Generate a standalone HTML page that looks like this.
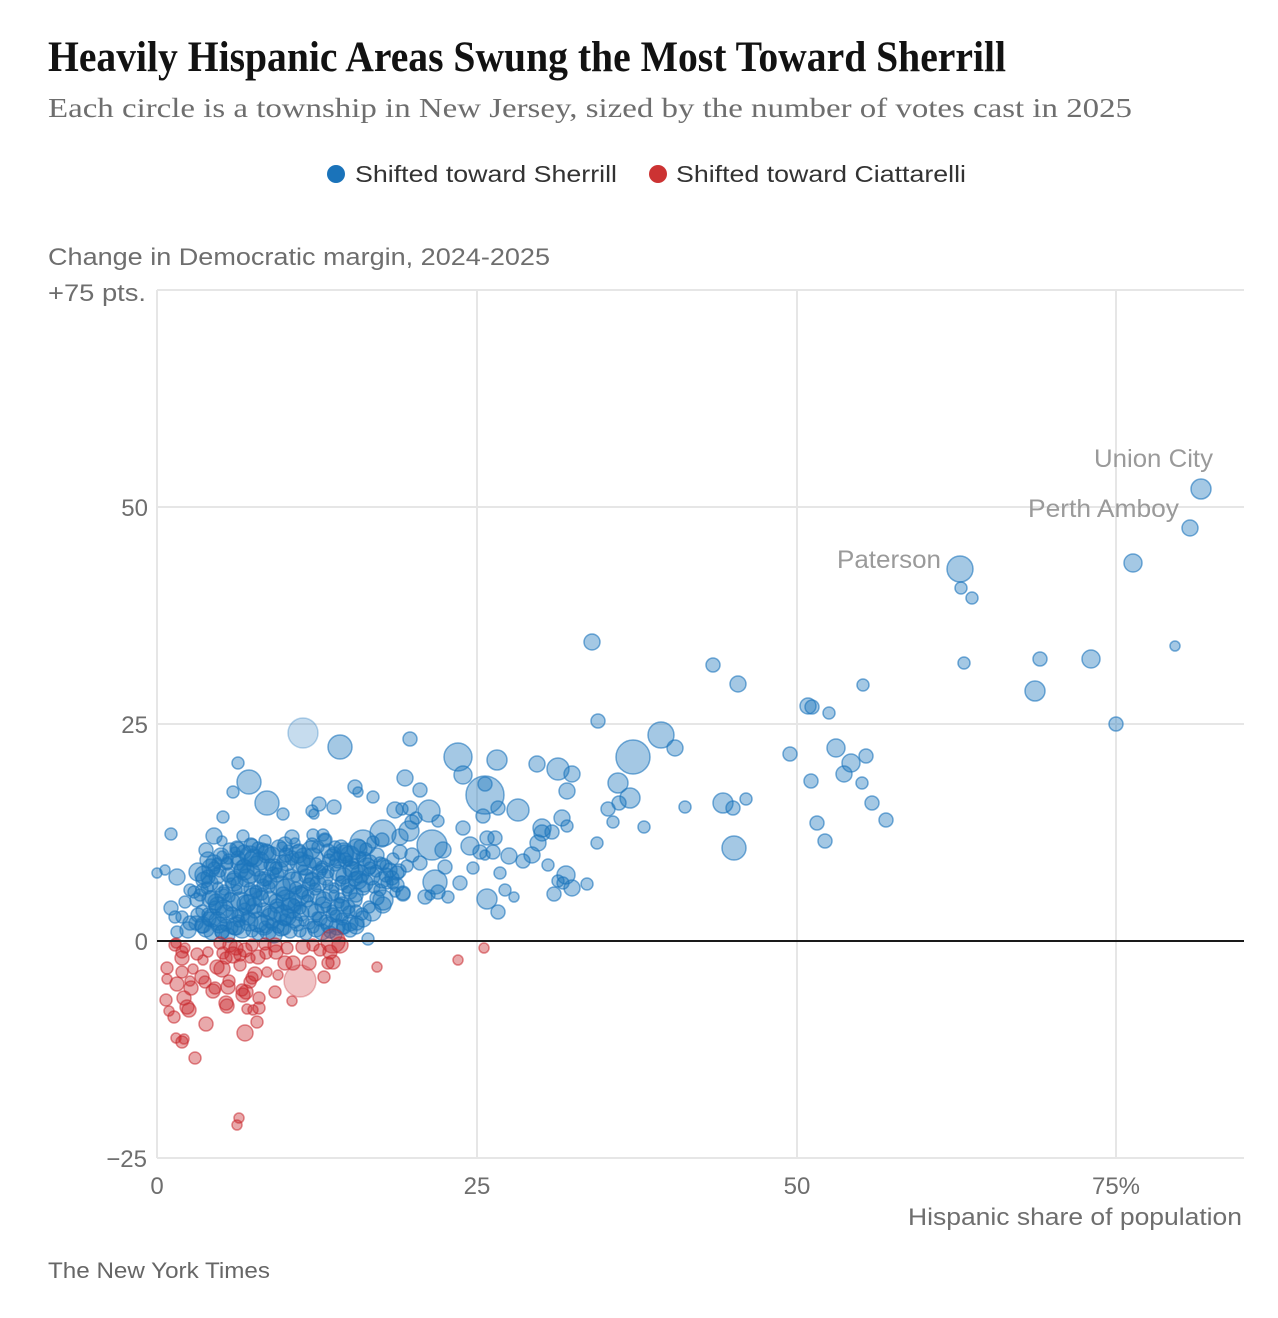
<!DOCTYPE html>
<html><head><meta charset="utf-8">
<style>
html,body{margin:0;padding:0;background:#fff;}
svg{display:block;}
.b{fill:rgb(28,117,188);fill-opacity:0.4;stroke:rgb(28,117,188);stroke-opacity:0.6;stroke-width:1.5;}
.bl{fill:rgb(28,117,188);fill-opacity:0.25;stroke:rgb(28,117,188);stroke-opacity:0.3;stroke-width:1.5;}
.r{fill:rgb(200,40,45);fill-opacity:0.4;stroke:rgb(200,40,45);stroke-opacity:0.55;stroke-width:1.5;}
.rl{fill:rgb(200,40,45);fill-opacity:0.28;stroke:rgb(200,40,45);stroke-opacity:0.3;stroke-width:1.5;}
.s{font-family:"Liberation Sans",Arial,sans-serif;}
</style></head>
<body>
<svg width="1278" height="1318" viewBox="0 0 1278 1318" xmlns="http://www.w3.org/2000/svg">
<rect width="1278" height="1318" fill="#fff"/>
<text x="48" y="71" font-family="Liberation Serif, serif" font-weight="bold" font-size="43" fill="#121212" textLength="958" lengthAdjust="spacingAndGlyphs">Heavily Hispanic Areas Swung the Most Toward Sherrill</text>
<text x="48" y="117" font-family="Liberation Serif, serif" font-size="27" fill="#6e6e6e" textLength="1084" lengthAdjust="spacingAndGlyphs">Each circle is a township in New Jersey, sized by the number of votes cast in 2025</text>

<circle cx="336" cy="174" r="9" fill="#1a73ba"/>
<text class="s" x="355" y="182" font-size="23" fill="#333" textLength="262" lengthAdjust="spacingAndGlyphs">Shifted toward Sherrill</text>
<circle cx="658" cy="174" r="9" fill="#cc3333"/>
<text class="s" x="676" y="182" font-size="23" fill="#333" textLength="290" lengthAdjust="spacingAndGlyphs">Shifted toward Ciattarelli</text>

<text class="s" x="48" y="265" font-size="24" fill="#6e6e6e" textLength="502" lengthAdjust="spacingAndGlyphs">Change in Democratic margin, 2024-2025</text>
<text class="s" x="48" y="301" font-size="24" fill="#6e6e6e" textLength="98" lengthAdjust="spacingAndGlyphs">+75 pts.</text>

<!-- grid -->
<g stroke="#e6e6e6" stroke-width="2">
<line x1="157" y1="290" x2="1244" y2="290"/>
<line x1="157" y1="507" x2="1244" y2="507"/>
<line x1="157" y1="724" x2="1244" y2="724"/>
<line x1="157" y1="1158" x2="1244" y2="1158"/>
<line x1="157" y1="290" x2="157" y2="1158"/>
<line x1="477" y1="290" x2="477" y2="1158"/>
<line x1="797" y1="290" x2="797" y2="1158"/>
<line x1="1116" y1="290" x2="1116" y2="1158"/>
</g>

<g class="s" font-size="24" fill="#6e6e6e">
<text x="148" y="516" text-anchor="end">50</text>
<text x="148" y="733" text-anchor="end">25</text>
<text x="148" y="950" text-anchor="end">0</text>
<text x="147" y="1167" text-anchor="end">−25</text>
<text x="157" y="1194" text-anchor="middle">0</text>
<text x="477" y="1194" text-anchor="middle">25</text>
<text x="797" y="1194" text-anchor="middle">50</text>
<text x="1116" y="1194" text-anchor="middle">75%</text>
<text x="1242" y="1225" text-anchor="end" textLength="334" lengthAdjust="spacingAndGlyphs">Hispanic share of population</text>
</g>
<text class="s" x="48" y="1278" font-size="22" fill="#666" textLength="222" lengthAdjust="spacingAndGlyphs">The New York Times</text>

<!-- blue dense cluster -->
<g id="ga">
<circle class="b" cx="244" cy="852" r="7"/><circle class="b" cx="258" cy="848" r="6"/><circle class="b" cx="272" cy="855" r="8"/><circle class="b" cx="288" cy="850" r="5"/><circle class="b" cx="304" cy="857" r="9"/><circle class="b" cx="318" cy="847" r="6"/><circle class="b" cx="334" cy="854" r="7"/><circle class="b" cx="350" cy="856" r="10"/><circle class="b" cx="366" cy="849" r="6"/>
<circle class="b" cx="214" cy="863" r="8"/><circle class="b" cx="228" cy="859" r="5"/><circle class="b" cx="244" cy="866" r="7"/><circle class="b" cx="260" cy="861" r="9"/><circle class="b" cx="276" cy="868" r="6"/><circle class="b" cx="292" cy="858" r="7"/><circle class="b" cx="306" cy="865" r="10"/><circle class="b" cx="322" cy="867" r="6"/><circle class="b" cx="338" cy="860" r="8"/><circle class="b" cx="354" cy="864" r="5"/><circle class="b" cx="370" cy="862" r="7"/><circle class="b" cx="386" cy="866" r="6"/>
<circle class="b" cx="204" cy="875" r="9"/><circle class="b" cx="220" cy="871" r="6"/><circle class="b" cx="234" cy="878" r="7"/><circle class="b" cx="250" cy="873" r="10"/><circle class="b" cx="266" cy="880" r="6"/><circle class="b" cx="280" cy="870" r="8"/><circle class="b" cx="296" cy="877" r="5"/><circle class="b" cx="312" cy="879" r="7"/><circle class="b" cx="328" cy="872" r="6"/><circle class="b" cx="344" cy="876" r="8"/><circle class="b" cx="360" cy="874" r="9"/><circle class="b" cx="376" cy="871" r="6"/><circle class="b" cx="392" cy="878" r="7"/>
<circle class="b" cx="210" cy="883" r="8"/><circle class="b" cx="224" cy="890" r="5"/><circle class="b" cx="240" cy="885" r="9"/><circle class="b" cx="256" cy="892" r="6"/><circle class="b" cx="270" cy="882" r="7"/><circle class="b" cx="286" cy="889" r="10"/><circle class="b" cx="302" cy="891" r="6"/><circle class="b" cx="318" cy="884" r="8"/><circle class="b" cx="334" cy="888" r="5"/><circle class="b" cx="348" cy="886" r="7"/><circle class="b" cx="364" cy="883" r="9"/><circle class="b" cx="380" cy="890" r="6"/>
<circle class="b" cx="200" cy="895" r="6"/><circle class="b" cx="216" cy="902" r="8"/><circle class="b" cx="230" cy="897" r="5"/><circle class="b" cx="246" cy="904" r="9"/><circle class="b" cx="262" cy="894" r="6"/><circle class="b" cx="276" cy="901" r="7"/><circle class="b" cx="292" cy="903" r="10"/><circle class="b" cx="308" cy="896" r="6"/><circle class="b" cx="324" cy="900" r="8"/><circle class="b" cx="340" cy="898" r="5"/><circle class="b" cx="356" cy="895" r="7"/>
<circle class="b" cx="208" cy="914" r="6"/><circle class="b" cx="224" cy="909" r="9"/><circle class="b" cx="238" cy="916" r="6"/><circle class="b" cx="254" cy="906" r="8"/><circle class="b" cx="270" cy="913" r="7"/><circle class="b" cx="284" cy="915" r="10"/><circle class="b" cx="300" cy="908" r="6"/><circle class="b" cx="316" cy="912" r="8"/><circle class="b" cx="332" cy="910" r="5"/><circle class="b" cx="348" cy="907" r="7"/><circle class="b" cx="362" cy="914" r="6"/>
<circle class="b" cx="202" cy="926" r="7"/><circle class="b" cx="218" cy="921" r="9"/><circle class="b" cx="232" cy="928" r="6"/><circle class="b" cx="248" cy="918" r="7"/><circle class="b" cx="264" cy="925" r="10"/><circle class="b" cx="278" cy="927" r="6"/><circle class="b" cx="294" cy="920" r="8"/><circle class="b" cx="310" cy="924" r="5"/><circle class="b" cx="326" cy="922" r="7"/><circle class="b" cx="342" cy="919" r="6"/><circle class="b" cx="356" cy="926" r="8"/>
<circle class="b" cx="212" cy="932" r="8"/><circle class="b" cx="228" cy="935" r="7"/><circle class="b" cx="242" cy="929" r="9"/><circle class="b" cx="258" cy="934" r="6"/><circle class="b" cx="274" cy="935" r="8"/><circle class="b" cx="290" cy="931" r="7"/><circle class="b" cx="306" cy="934" r="6"/><circle class="b" cx="322" cy="932" r="8"/><circle class="b" cx="336" cy="935" r="6"/><circle class="b" cx="350" cy="930" r="7"/>
</g>
<use href="#ga" transform="translate(7,-7)"/>
<use href="#ga" transform="translate(-6,-3)"/>

<!-- blue individual -->
<g>
<circle class="b" cx="1201" cy="489" r="10"/><circle class="b" cx="1190" cy="528" r="8"/><circle class="b" cx="1133" cy="563" r="9"/><circle class="b" cx="1175" cy="646" r="5"/><circle class="b" cx="1116" cy="724" r="7"/><circle class="b" cx="1091" cy="659" r="9"/><circle class="b" cx="1035" cy="691" r="10"/><circle class="b" cx="1040" cy="659" r="7"/>
<circle class="b" cx="960" cy="569" r="13"/><circle class="b" cx="961" cy="588" r="6"/><circle class="b" cx="972" cy="598" r="6"/><circle class="b" cx="964" cy="663" r="6"/>
<circle class="b" cx="863" cy="685" r="6"/><circle class="b" cx="866" cy="756" r="7"/><circle class="b" cx="862" cy="783" r="6"/><circle class="b" cx="872" cy="803" r="7"/><circle class="b" cx="886" cy="820" r="7"/><circle class="b" cx="851" cy="763" r="9"/><circle class="b" cx="844" cy="774" r="8"/><circle class="b" cx="836" cy="748" r="9"/>
<circle class="b" cx="808" cy="706" r="8"/><circle class="b" cx="812" cy="707" r="7"/><circle class="b" cx="829" cy="713" r="6"/><circle class="b" cx="790" cy="754" r="7"/><circle class="b" cx="811" cy="781" r="7"/><circle class="b" cx="817" cy="823" r="7"/><circle class="b" cx="825" cy="841" r="7"/>
<circle class="b" cx="713" cy="665" r="7"/><circle class="b" cx="738" cy="684" r="8"/><circle class="b" cx="746" cy="799" r="6"/><circle class="b" cx="723" cy="803" r="10"/><circle class="b" cx="733" cy="808" r="7"/><circle class="b" cx="734" cy="848" r="12"/><circle class="b" cx="685" cy="807" r="6"/>
<circle class="b" cx="661" cy="735" r="13"/><circle class="b" cx="675" cy="748" r="8"/><circle class="b" cx="633" cy="757" r="17"/><circle class="b" cx="618" cy="783" r="10"/><circle class="b" cx="630" cy="798" r="10"/><circle class="b" cx="619" cy="803" r="7"/><circle class="b" cx="608" cy="809" r="7"/><circle class="b" cx="613" cy="822" r="6"/><circle class="b" cx="644" cy="827" r="6"/><circle class="b" cx="597" cy="843" r="6"/>
<circle class="b" cx="592" cy="642" r="8"/><circle class="b" cx="598" cy="721" r="7"/>
<circle class="b" cx="587" cy="884" r="6"/><circle class="b" cx="572" cy="888" r="8"/><circle class="b" cx="566" cy="875" r="9"/><circle class="b" cx="558" cy="881" r="6"/><circle class="b" cx="563" cy="883" r="6"/><circle class="b" cx="554" cy="894" r="7"/><circle class="b" cx="548" cy="865" r="6"/>
<circle class="b" cx="537" cy="764" r="8"/><circle class="b" cx="558" cy="769" r="11"/><circle class="b" cx="572" cy="774" r="8"/><circle class="b" cx="567" cy="791" r="8"/><circle class="b" cx="562" cy="818" r="8"/><circle class="b" cx="567" cy="826" r="6"/>
<circle class="b" cx="542" cy="828" r="9"/><circle class="b" cx="542" cy="833" r="8"/><circle class="b" cx="552" cy="832" r="7"/><circle class="b" cx="538" cy="843" r="8"/><circle class="b" cx="532" cy="855" r="8"/><circle class="b" cx="523" cy="861" r="7"/><circle class="b" cx="509" cy="856" r="8"/><circle class="b" cx="493" cy="852" r="7"/><circle class="b" cx="487" cy="838" r="7"/><circle class="b" cx="495" cy="838" r="7"/>
<circle class="b" cx="500" cy="873" r="6"/><circle class="b" cx="505" cy="890" r="6"/><circle class="b" cx="514" cy="897" r="5"/><circle class="b" cx="487" cy="899" r="10"/><circle class="b" cx="498" cy="912" r="7"/>
<circle class="b" cx="518" cy="810" r="11"/><circle class="b" cx="498" cy="808" r="7"/><circle class="b" cx="483" cy="816" r="7"/><circle class="b" cx="497" cy="760" r="10"/><circle class="b" cx="485" cy="795" r="19"/><circle class="b" cx="485" cy="784" r="7"/><circle class="b" cx="463" cy="775" r="9"/><circle class="b" cx="458" cy="757" r="14"/>
<circle class="b" cx="473" cy="868" r="6"/><circle class="b" cx="460" cy="883" r="7"/><circle class="b" cx="435" cy="882" r="12"/><circle class="b" cx="438" cy="892" r="7"/><circle class="b" cx="448" cy="897" r="6"/><circle class="b" cx="425" cy="897" r="7"/><circle class="b" cx="430" cy="895" r="5"/>
<circle class="b" cx="443" cy="850" r="8"/><circle class="b" cx="470" cy="846" r="9"/><circle class="b" cx="480" cy="852" r="7"/><circle class="b" cx="485" cy="855" r="5"/><circle class="b" cx="463" cy="828" r="7"/><circle class="b" cx="432" cy="845" r="15"/><circle class="b" cx="429" cy="811" r="11"/><circle class="b" cx="438" cy="821" r="6"/><circle class="b" cx="416" cy="818" r="6"/>
<circle class="b" cx="412" cy="822" r="7"/><circle class="b" cx="409" cy="831" r="10"/><circle class="b" cx="400" cy="837" r="8"/><circle class="b" cx="383" cy="833" r="13"/><circle class="b" cx="382" cy="840" r="7"/><circle class="b" cx="363" cy="843" r="13"/>
<circle class="b" cx="395" cy="810" r="8"/><circle class="b" cx="402" cy="809" r="6"/><circle class="b" cx="410" cy="808" r="7"/><circle class="b" cx="405" cy="778" r="8"/><circle class="b" cx="420" cy="790" r="7"/><circle class="b" cx="410" cy="739" r="7"/>
<circle class="b" cx="355" cy="787" r="7"/><circle class="b" cx="358" cy="792" r="5"/><circle class="b" cx="373" cy="797" r="6"/><circle class="b" cx="334" cy="807" r="7"/><circle class="b" cx="319" cy="804" r="7"/><circle class="b" cx="312" cy="811" r="6"/><circle class="b" cx="314" cy="814" r="5"/>
<circle class="b" cx="340" cy="747" r="12"/><circle class="bl" cx="303" cy="733" r="15"/>
<circle class="b" cx="267" cy="803" r="12"/><circle class="b" cx="283" cy="814" r="6"/><circle class="b" cx="249" cy="782" r="12"/><circle class="b" cx="238" cy="763" r="6"/><circle class="b" cx="233" cy="792" r="6"/><circle class="b" cx="223" cy="817" r="6"/>
<circle class="b" cx="171" cy="834" r="6"/><circle class="b" cx="214" cy="836" r="8"/><circle class="b" cx="243" cy="836" r="6"/><circle class="b" cx="222" cy="841" r="5"/><circle class="b" cx="206" cy="850" r="7"/><circle class="b" cx="230" cy="850" r="7"/><circle class="b" cx="237" cy="848" r="7"/><circle class="b" cx="250" cy="856" r="10"/><circle class="b" cx="262" cy="849" r="6"/>
<circle class="b" cx="292" cy="837" r="7"/><circle class="b" cx="285" cy="844" r="7"/><circle class="b" cx="313" cy="835" r="6"/><circle class="b" cx="323" cy="835" r="6"/><circle class="b" cx="325" cy="840" r="7"/><circle class="b" cx="335" cy="847" r="6"/><circle class="b" cx="345" cy="860" r="7"/>
<circle class="b" cx="157" cy="873" r="5"/><circle class="b" cx="165" cy="870" r="5"/><circle class="b" cx="177" cy="877" r="8"/><circle class="b" cx="208" cy="877" r="7"/><circle class="b" cx="190" cy="890" r="6"/><circle class="b" cx="202" cy="890" r="6"/><circle class="b" cx="217" cy="863" r="5"/><circle class="b" cx="227" cy="863" r="6"/><circle class="b" cx="238" cy="858" r="7"/>
<circle class="b" cx="171" cy="908" r="7"/><circle class="b" cx="185" cy="902" r="6"/><circle class="b" cx="197" cy="900" r="7"/><circle class="b" cx="175" cy="917" r="6"/><circle class="b" cx="182" cy="917" r="6"/><circle class="b" cx="188" cy="930" r="8"/><circle class="b" cx="190" cy="923" r="7"/><circle class="b" cx="177" cy="932" r="6"/><circle class="b" cx="203" cy="925" r="8"/><circle class="b" cx="198" cy="915" r="7"/><circle class="b" cx="212" cy="898" r="7"/><circle class="b" cx="222" cy="932" r="7"/>
<circle class="b" cx="400" cy="852" r="7"/><circle class="b" cx="412" cy="855" r="7"/><circle class="b" cx="420" cy="863" r="7"/><circle class="b" cx="407" cy="866" r="6"/><circle class="b" cx="445" cy="867" r="7"/><circle class="b" cx="390" cy="870" r="7"/><circle class="b" cx="397" cy="873" r="7"/><circle class="b" cx="382" cy="880" r="8"/><circle class="b" cx="397" cy="885" r="7"/><circle class="b" cx="403" cy="893" r="7"/><circle class="b" cx="395" cy="892" r="5"/><circle class="b" cx="377" cy="898" r="7"/><circle class="b" cx="383" cy="905" r="8"/><circle class="b" cx="372" cy="912" r="9"/>
<circle class="b" cx="368" cy="939" r="6"/><circle class="b" cx="337" cy="927" r="8"/><circle class="b" cx="340" cy="910" r="11"/><circle class="b" cx="383" cy="900" r="10"/><circle class="b" cx="403" cy="894" r="7"/><circle class="b" cx="393" cy="883" r="6"/>
</g>

<!-- red -->
<g>
<circle class="r" cx="167" cy="968" r="6"/><circle class="r" cx="167" cy="979" r="5"/><circle class="r" cx="177" cy="984" r="7"/><circle class="r" cx="182" cy="972" r="6"/><circle class="r" cx="182" cy="958" r="7"/><circle class="r" cx="182" cy="952" r="6"/><circle class="r" cx="176" cy="943" r="5"/>
<circle class="r" cx="166" cy="1000" r="6"/><circle class="r" cx="169" cy="1011" r="5"/><circle class="r" cx="174" cy="1017" r="6"/><circle class="r" cx="184" cy="998" r="7"/><circle class="r" cx="187" cy="1007" r="7"/><circle class="r" cx="189" cy="1010" r="7"/><circle class="r" cx="191" cy="988" r="7"/><circle class="r" cx="190" cy="981" r="5"/><circle class="r" cx="193" cy="969" r="5"/><circle class="r" cx="197" cy="954" r="6"/>
<circle class="r" cx="202" cy="977" r="7"/><circle class="r" cx="205" cy="982" r="6"/><circle class="r" cx="208" cy="952" r="5"/><circle class="r" cx="203" cy="960" r="5"/><circle class="r" cx="213" cy="991" r="7"/><circle class="r" cx="215" cy="988" r="6"/><circle class="r" cx="217" cy="967" r="7"/><circle class="r" cx="222" cy="969" r="8"/><circle class="r" cx="223" cy="953" r="6"/><circle class="r" cx="220" cy="943" r="6"/>
<circle class="r" cx="228" cy="987" r="7"/><circle class="r" cx="229" cy="981" r="6"/><circle class="r" cx="226" cy="1003" r="7"/><circle class="r" cx="227" cy="1006" r="7"/><circle class="r" cx="233" cy="955" r="8"/><circle class="r" cx="236" cy="948" r="7"/><circle class="r" cx="240" cy="965" r="6"/><circle class="r" cx="243" cy="995" r="7"/><circle class="r" cx="242" cy="990" r="6"/><circle class="r" cx="246" cy="992" r="7"/>
<circle class="r" cx="250" cy="958" r="5"/><circle class="r" cx="258" cy="957" r="7"/><circle class="r" cx="255" cy="974" r="7"/><circle class="r" cx="252" cy="978" r="6"/><circle class="r" cx="250" cy="982" r="6"/><circle class="r" cx="253" cy="1010" r="5"/><circle class="r" cx="247" cy="1009" r="5"/><circle class="r" cx="259" cy="1008" r="6"/><circle class="r" cx="259" cy="998" r="6"/><circle class="r" cx="257" cy="1022" r="6"/><circle class="r" cx="245" cy="1033" r="8"/>
<circle class="r" cx="206" cy="1024" r="7"/><circle class="r" cx="176" cy="1038" r="5"/><circle class="r" cx="182" cy="1042" r="6"/><circle class="r" cx="184" cy="1039" r="5"/><circle class="r" cx="195" cy="1058" r="6"/>
<circle class="r" cx="267" cy="972" r="5"/><circle class="r" cx="266" cy="953" r="6"/><circle class="r" cx="275" cy="992" r="6"/><circle class="r" cx="278" cy="975" r="5"/><circle class="r" cx="276" cy="952" r="7"/><circle class="r" cx="275" cy="945" r="7"/><circle class="r" cx="287" cy="948" r="6"/><circle class="r" cx="285" cy="963" r="7"/><circle class="r" cx="293" cy="963" r="7"/><circle class="r" cx="292" cy="1001" r="5"/>
<circle class="rl" cx="300" cy="981" r="16"/><circle class="r" cx="303" cy="947" r="7"/><circle class="r" cx="309" cy="963" r="7"/><circle class="r" cx="324" cy="977" r="6"/><circle class="r" cx="328" cy="963" r="6"/><circle class="r" cx="333" cy="962" r="7"/><circle class="r" cx="333" cy="941" r="12"/><circle class="r" cx="340" cy="945" r="8"/><circle class="r" cx="330" cy="952" r="7"/>
<circle class="r" cx="377" cy="967" r="5"/><circle class="r" cx="458" cy="960" r="5"/><circle class="r" cx="484" cy="948" r="5"/><circle class="r" cx="237" cy="1125" r="5"/><circle class="r" cx="239" cy="1118" r="5"/>
<circle class="r" cx="230" cy="945" r="7"/><circle class="r" cx="245" cy="950" r="7"/><circle class="r" cx="240" cy="955" r="6"/><circle class="r" cx="226" cy="958" r="6"/><circle class="r" cx="252" cy="945" r="6"/><circle class="r" cx="265" cy="944" r="6"/><circle class="r" cx="175" cy="945" r="6"/><circle class="r" cx="185" cy="948" r="5"/><circle class="r" cx="313" cy="945" r="6"/><circle class="r" cx="320" cy="950" r="6"/>
</g>

<line x1="157" y1="941" x2="1244" y2="941" stroke="#1a1a1a" stroke-width="2"/>

<g class="s" font-size="25" fill="#9a9a9a">
<text x="1094" y="467" textLength="119" lengthAdjust="spacingAndGlyphs">Union City</text>
<text x="1028" y="517" textLength="151" lengthAdjust="spacingAndGlyphs">Perth Amboy</text>
<text x="837" y="568" textLength="104" lengthAdjust="spacingAndGlyphs">Paterson</text>
</g>
</svg>
</body></html>
